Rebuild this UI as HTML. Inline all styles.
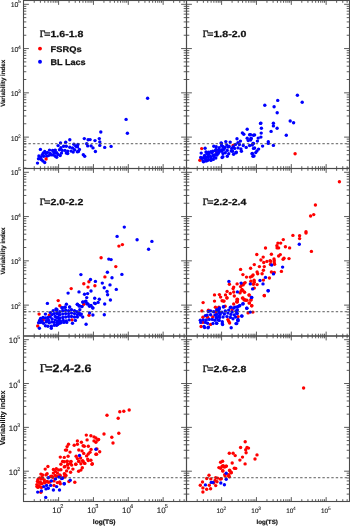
<!DOCTYPE html><html><head><meta charset="utf-8"><style>html,body{margin:0;padding:0;background:#fff;}svg{display:block;text-rendering:geometricPrecision}</style></head><body>
<svg width="350" height="526" viewBox="0 0 350 526">
<rect width="350" height="526" fill="#fff"/>
<g fill="#f00">
<circle cx="201.7" cy="148.6" r="1.7"/>
<circle cx="199.9" cy="160.2" r="1.7"/>
<circle cx="216.7" cy="152.1" r="1.7"/>
<circle cx="233.1" cy="145.5" r="1.7"/>
<circle cx="295.1" cy="153.8" r="1.7"/>
<circle cx="118.9" cy="246.1" r="1.7"/>
<circle cx="122.4" cy="244.6" r="1.7"/>
<circle cx="115.8" cy="266.6" r="1.7"/>
<circle cx="101.1" cy="257.8" r="1.7"/>
<circle cx="104.9" cy="276.9" r="1.7"/>
<circle cx="88.9" cy="281.8" r="1.7"/>
<circle cx="83.8" cy="283.7" r="1.7"/>
<circle cx="94.9" cy="285.7" r="1.7"/>
<circle cx="88.0" cy="287.1" r="1.7"/>
<circle cx="89.0" cy="315.3" r="1.7"/>
<circle cx="71.2" cy="288.6" r="1.7"/>
<circle cx="58.2" cy="300.6" r="1.7"/>
<circle cx="59.8" cy="305.7" r="1.7"/>
<circle cx="83.8" cy="304.3" r="1.7"/>
<circle cx="39.1" cy="314.1" r="1.7"/>
<circle cx="49.3" cy="315.1" r="1.7"/>
<circle cx="43.3" cy="319.9" r="1.7"/>
<circle cx="37.7" cy="326.0" r="1.7"/>
<circle cx="72.0" cy="319.9" r="1.7"/>
<circle cx="339.4" cy="181.7" r="1.7"/>
<circle cx="315.4" cy="205.0" r="1.7"/>
<circle cx="313.7" cy="214.6" r="1.7"/>
<circle cx="310.6" cy="216.0" r="1.7"/>
<circle cx="306.0" cy="231.7" r="1.7"/>
<circle cx="306.0" cy="233.1" r="1.7"/>
<circle cx="292.9" cy="235.4" r="1.7"/>
<circle cx="299.6" cy="235.7" r="1.7"/>
<circle cx="299.6" cy="238.6" r="1.7"/>
<circle cx="283.3" cy="239.6" r="1.7"/>
<circle cx="277.9" cy="243.1" r="1.7"/>
<circle cx="280.7" cy="243.1" r="1.7"/>
<circle cx="276.9" cy="245.7" r="1.7"/>
<circle cx="278.6" cy="247.9" r="1.7"/>
<circle cx="277.1" cy="247.9" r="1.7"/>
<circle cx="285.4" cy="246.7" r="1.7"/>
<circle cx="289.6" cy="247.9" r="1.7"/>
<circle cx="311.4" cy="251.4" r="1.7"/>
<circle cx="271.4" cy="254.3" r="1.7"/>
<circle cx="280.3" cy="254.6" r="1.7"/>
<circle cx="278.6" cy="256.0" r="1.7"/>
<circle cx="284.0" cy="258.3" r="1.7"/>
<circle cx="283.1" cy="259.3" r="1.7"/>
<circle cx="289.0" cy="258.6" r="1.7"/>
<circle cx="274.0" cy="258.9" r="1.7"/>
<circle cx="274.3" cy="260.7" r="1.7"/>
<circle cx="274.6" cy="264.3" r="1.7"/>
<circle cx="270.7" cy="261.4" r="1.7"/>
<circle cx="265.5" cy="248.0" r="1.7"/>
<circle cx="256.8" cy="254.5" r="1.7"/>
<circle cx="263.2" cy="257.1" r="1.7"/>
<circle cx="260.9" cy="260.0" r="1.7"/>
<circle cx="263.7" cy="262.5" r="1.7"/>
<circle cx="266.9" cy="261.4" r="1.7"/>
<circle cx="270.1" cy="260.6" r="1.7"/>
<circle cx="274.3" cy="262.9" r="1.7"/>
<circle cx="254.3" cy="264.6" r="1.7"/>
<circle cx="259.4" cy="266.6" r="1.7"/>
<circle cx="264.3" cy="266.6" r="1.7"/>
<circle cx="250.6" cy="268.2" r="1.7"/>
<circle cx="240.6" cy="269.4" r="1.7"/>
<circle cx="263.4" cy="270.3" r="1.7"/>
<circle cx="257.1" cy="272.0" r="1.7"/>
<circle cx="257.7" cy="273.7" r="1.7"/>
<circle cx="262.1" cy="273.7" r="1.7"/>
<circle cx="242.9" cy="274.6" r="1.7"/>
<circle cx="253.1" cy="274.9" r="1.7"/>
<circle cx="271.4" cy="272.0" r="1.7"/>
<circle cx="246.5" cy="277.1" r="1.7"/>
<circle cx="250.3" cy="277.1" r="1.7"/>
<circle cx="252.0" cy="276.3" r="1.7"/>
<circle cx="269.4" cy="278.0" r="1.7"/>
<circle cx="263.4" cy="280.1" r="1.7"/>
<circle cx="250.9" cy="281.2" r="1.7"/>
<circle cx="254.1" cy="280.3" r="1.7"/>
<circle cx="254.3" cy="282.3" r="1.7"/>
<circle cx="253.4" cy="284.3" r="1.7"/>
<circle cx="257.1" cy="284.6" r="1.7"/>
<circle cx="237.1" cy="283.9" r="1.7"/>
<circle cx="241.7" cy="284.9" r="1.7"/>
<circle cx="244.0" cy="283.5" r="1.7"/>
<circle cx="245.1" cy="282.6" r="1.7"/>
<circle cx="240.6" cy="286.6" r="1.7"/>
<circle cx="254.3" cy="288.1" r="1.7"/>
<circle cx="241.1" cy="291.1" r="1.7"/>
<circle cx="240.0" cy="292.9" r="1.7"/>
<circle cx="242.9" cy="290.6" r="1.7"/>
<circle cx="244.6" cy="292.3" r="1.7"/>
<circle cx="249.1" cy="295.1" r="1.7"/>
<circle cx="264.3" cy="295.4" r="1.7"/>
<circle cx="242.9" cy="298.0" r="1.7"/>
<circle cx="244.6" cy="299.7" r="1.7"/>
<circle cx="246.9" cy="300.3" r="1.7"/>
<circle cx="250.9" cy="300.0" r="1.7"/>
<circle cx="237.1" cy="299.1" r="1.7"/>
<circle cx="237.1" cy="301.4" r="1.7"/>
<circle cx="249.5" cy="302.9" r="1.7"/>
<circle cx="251.8" cy="305.7" r="1.7"/>
<circle cx="229.4" cy="284.3" r="1.7"/>
<circle cx="233.7" cy="287.1" r="1.7"/>
<circle cx="233.1" cy="288.6" r="1.7"/>
<circle cx="227.1" cy="291.4" r="1.7"/>
<circle cx="230.3" cy="293.5" r="1.7"/>
<circle cx="233.7" cy="292.0" r="1.7"/>
<circle cx="214.5" cy="294.9" r="1.7"/>
<circle cx="219.4" cy="294.6" r="1.7"/>
<circle cx="220.6" cy="297.1" r="1.7"/>
<circle cx="225.5" cy="294.9" r="1.7"/>
<circle cx="226.9" cy="297.7" r="1.7"/>
<circle cx="234.3" cy="296.0" r="1.7"/>
<circle cx="222.1" cy="300.8" r="1.7"/>
<circle cx="224.0" cy="301.1" r="1.7"/>
<circle cx="214.5" cy="301.1" r="1.7"/>
<circle cx="203.1" cy="302.6" r="1.7"/>
<circle cx="233.7" cy="304.0" r="1.7"/>
<circle cx="215.4" cy="307.2" r="1.7"/>
<circle cx="225.1" cy="306.3" r="1.7"/>
<circle cx="201.9" cy="310.9" r="1.7"/>
<circle cx="218.7" cy="307.9" r="1.7"/>
<circle cx="208.4" cy="310.2" r="1.7"/>
<circle cx="215.7" cy="312.1" r="1.7"/>
<circle cx="202.9" cy="317.3" r="1.7"/>
<circle cx="207.6" cy="317.3" r="1.7"/>
<circle cx="212.7" cy="317.0" r="1.7"/>
<circle cx="202.9" cy="322.4" r="1.7"/>
<circle cx="210.6" cy="324.4" r="1.7"/>
<circle cx="201.1" cy="326.5" r="1.7"/>
<circle cx="227.0" cy="298.1" r="1.7"/>
<circle cx="223.6" cy="301.1" r="1.7"/>
<circle cx="237.5" cy="299.4" r="1.7"/>
<circle cx="237.3" cy="302.0" r="1.7"/>
<circle cx="242.4" cy="298.1" r="1.7"/>
<circle cx="244.1" cy="299.9" r="1.7"/>
<circle cx="218.9" cy="307.1" r="1.7"/>
<circle cx="232.1" cy="309.7" r="1.7"/>
<circle cx="238.1" cy="316.6" r="1.7"/>
<circle cx="227.9" cy="319.6" r="1.7"/>
<circle cx="228.7" cy="321.3" r="1.7"/>
<circle cx="229.6" cy="323.0" r="1.7"/>
<circle cx="215.4" cy="311.9" r="1.7"/>
<circle cx="237.4" cy="299.7" r="1.7"/>
<circle cx="236.7" cy="301.7" r="1.7"/>
<circle cx="252.9" cy="312.1" r="1.7"/>
<circle cx="248.1" cy="312.9" r="1.7"/>
<circle cx="264.3" cy="295.7" r="1.7"/>
<circle cx="249.1" cy="295.0" r="1.7"/>
<circle cx="245.7" cy="300.3" r="1.7"/>
<circle cx="251.0" cy="299.7" r="1.7"/>
<circle cx="249.1" cy="303.1" r="1.7"/>
<circle cx="251.7" cy="305.7" r="1.7"/>
<circle cx="243.1" cy="284.9" r="1.7"/>
<circle cx="242.0" cy="289.4" r="1.7"/>
<circle cx="281.4" cy="271.4" r="1.7"/>
<circle cx="274.3" cy="272.4" r="1.7"/>
<circle cx="270.4" cy="264.4" r="1.7"/>
<circle cx="107.0" cy="415.2" r="1.7"/>
<circle cx="119.8" cy="411.8" r="1.7"/>
<circle cx="123.8" cy="411.3" r="1.7"/>
<circle cx="129.2" cy="410.0" r="1.7"/>
<circle cx="118.2" cy="418.2" r="1.7"/>
<circle cx="104.0" cy="434.0" r="1.7"/>
<circle cx="118.8" cy="433.2" r="1.7"/>
<circle cx="111.8" cy="437.2" r="1.7"/>
<circle cx="113.0" cy="443.0" r="1.7"/>
<circle cx="86.3" cy="435.1" r="1.7"/>
<circle cx="90.9" cy="435.7" r="1.7"/>
<circle cx="94.0" cy="436.9" r="1.7"/>
<circle cx="95.9" cy="438.0" r="1.7"/>
<circle cx="98.6" cy="439.5" r="1.7"/>
<circle cx="87.1" cy="439.9" r="1.7"/>
<circle cx="94.0" cy="440.9" r="1.7"/>
<circle cx="95.9" cy="442.2" r="1.7"/>
<circle cx="77.4" cy="440.9" r="1.7"/>
<circle cx="81.4" cy="442.2" r="1.7"/>
<circle cx="68.5" cy="444.3" r="1.7"/>
<circle cx="74.2" cy="445.2" r="1.7"/>
<circle cx="77.4" cy="444.3" r="1.7"/>
<circle cx="83.1" cy="445.7" r="1.7"/>
<circle cx="84.3" cy="446.3" r="1.7"/>
<circle cx="88.3" cy="446.3" r="1.7"/>
<circle cx="67.1" cy="446.6" r="1.7"/>
<circle cx="66.6" cy="450.0" r="1.7"/>
<circle cx="70.0" cy="452.1" r="1.7"/>
<circle cx="78.8" cy="450.0" r="1.7"/>
<circle cx="82.0" cy="450.9" r="1.7"/>
<circle cx="91.1" cy="449.4" r="1.7"/>
<circle cx="96.9" cy="448.9" r="1.7"/>
<circle cx="99.7" cy="451.7" r="1.7"/>
<circle cx="95.9" cy="454.3" r="1.7"/>
<circle cx="90.0" cy="452.3" r="1.7"/>
<circle cx="88.3" cy="454.0" r="1.7"/>
<circle cx="83.7" cy="453.4" r="1.7"/>
<circle cx="86.6" cy="455.9" r="1.7"/>
<circle cx="68.1" cy="456.3" r="1.7"/>
<circle cx="76.1" cy="456.3" r="1.7"/>
<circle cx="77.4" cy="458.6" r="1.7"/>
<circle cx="80.6" cy="458.0" r="1.7"/>
<circle cx="87.7" cy="459.1" r="1.7"/>
<circle cx="90.9" cy="460.3" r="1.7"/>
<circle cx="67.1" cy="461.4" r="1.7"/>
<circle cx="71.1" cy="461.4" r="1.7"/>
<circle cx="78.6" cy="461.4" r="1.7"/>
<circle cx="83.1" cy="461.4" r="1.7"/>
<circle cx="84.3" cy="463.1" r="1.7"/>
<circle cx="80.9" cy="463.7" r="1.7"/>
<circle cx="92.3" cy="463.7" r="1.7"/>
<circle cx="70.6" cy="463.7" r="1.7"/>
<circle cx="67.7" cy="464.3" r="1.7"/>
<circle cx="75.7" cy="464.3" r="1.7"/>
<circle cx="65.4" cy="450.1" r="1.7"/>
<circle cx="60.3" cy="457.1" r="1.7"/>
<circle cx="64.3" cy="457.4" r="1.7"/>
<circle cx="62.6" cy="461.5" r="1.7"/>
<circle cx="60.9" cy="464.2" r="1.7"/>
<circle cx="64.9" cy="466.5" r="1.7"/>
<circle cx="47.9" cy="466.5" r="1.7"/>
<circle cx="45.2" cy="469.1" r="1.7"/>
<circle cx="53.4" cy="469.5" r="1.7"/>
<circle cx="56.3" cy="468.6" r="1.7"/>
<circle cx="58.6" cy="470.0" r="1.7"/>
<circle cx="60.9" cy="469.7" r="1.7"/>
<circle cx="55.5" cy="471.4" r="1.7"/>
<circle cx="53.4" cy="473.1" r="1.7"/>
<circle cx="57.4" cy="473.1" r="1.7"/>
<circle cx="47.1" cy="473.7" r="1.7"/>
<circle cx="40.9" cy="474.1" r="1.7"/>
<circle cx="51.7" cy="476.3" r="1.7"/>
<circle cx="55.1" cy="475.4" r="1.7"/>
<circle cx="59.7" cy="474.9" r="1.7"/>
<circle cx="64.3" cy="473.7" r="1.7"/>
<circle cx="64.9" cy="477.1" r="1.7"/>
<circle cx="39.7" cy="477.9" r="1.7"/>
<circle cx="42.6" cy="477.9" r="1.7"/>
<circle cx="42.0" cy="477.4" r="1.7"/>
<circle cx="50.6" cy="476.5" r="1.7"/>
<circle cx="52.9" cy="477.4" r="1.7"/>
<circle cx="56.9" cy="476.3" r="1.7"/>
<circle cx="60.3" cy="475.7" r="1.7"/>
<circle cx="37.4" cy="481.4" r="1.7"/>
<circle cx="40.3" cy="482.0" r="1.7"/>
<circle cx="42.0" cy="483.7" r="1.7"/>
<circle cx="36.9" cy="486.6" r="1.7"/>
<circle cx="39.1" cy="486.6" r="1.7"/>
<circle cx="44.3" cy="482.0" r="1.7"/>
<circle cx="47.1" cy="481.4" r="1.7"/>
<circle cx="50.0" cy="482.0" r="1.7"/>
<circle cx="54.0" cy="480.9" r="1.7"/>
<circle cx="57.4" cy="482.6" r="1.7"/>
<circle cx="59.7" cy="482.0" r="1.7"/>
<circle cx="60.3" cy="483.7" r="1.7"/>
<circle cx="54.0" cy="485.4" r="1.7"/>
<circle cx="40.9" cy="492.3" r="1.7"/>
<circle cx="64.3" cy="461.7" r="1.7"/>
<circle cx="67.1" cy="461.1" r="1.7"/>
<circle cx="70.6" cy="461.7" r="1.7"/>
<circle cx="79.1" cy="461.1" r="1.7"/>
<circle cx="82.6" cy="460.6" r="1.7"/>
<circle cx="88.3" cy="460.6" r="1.7"/>
<circle cx="92.0" cy="464.3" r="1.7"/>
<circle cx="84.9" cy="463.4" r="1.7"/>
<circle cx="75.9" cy="464.3" r="1.7"/>
<circle cx="71.7" cy="465.1" r="1.7"/>
<circle cx="67.7" cy="465.1" r="1.7"/>
<circle cx="64.3" cy="466.9" r="1.7"/>
<circle cx="68.3" cy="468.0" r="1.7"/>
<circle cx="72.9" cy="469.1" r="1.7"/>
<circle cx="82.3" cy="467.8" r="1.7"/>
<circle cx="80.9" cy="470.1" r="1.7"/>
<circle cx="78.6" cy="471.2" r="1.7"/>
<circle cx="66.6" cy="470.9" r="1.7"/>
<circle cx="70.6" cy="472.3" r="1.7"/>
<circle cx="64.9" cy="474.3" r="1.7"/>
<circle cx="66.0" cy="475.4" r="1.7"/>
<circle cx="64.3" cy="476.6" r="1.7"/>
<circle cx="68.9" cy="481.5" r="1.7"/>
<circle cx="74.8" cy="482.3" r="1.7"/>
<circle cx="97.7" cy="440.0" r="1.7"/>
<circle cx="96.6" cy="454.3" r="1.7"/>
<circle cx="41.4" cy="478.9" r="1.7"/>
<circle cx="38.0" cy="479.4" r="1.7"/>
<circle cx="38.6" cy="482.3" r="1.7"/>
<circle cx="40.9" cy="483.4" r="1.7"/>
<circle cx="36.9" cy="484.6" r="1.7"/>
<circle cx="39.1" cy="485.7" r="1.7"/>
<circle cx="38.0" cy="487.4" r="1.7"/>
<circle cx="41.4" cy="487.4" r="1.7"/>
<circle cx="44.9" cy="482.9" r="1.7"/>
<circle cx="48.3" cy="482.3" r="1.7"/>
<circle cx="44.3" cy="480.0" r="1.7"/>
<circle cx="42.6" cy="474.9" r="1.7"/>
<circle cx="46.0" cy="474.9" r="1.7"/>
<circle cx="303.6" cy="388.0" r="1.7"/>
<circle cx="245.2" cy="441.7" r="1.7"/>
<circle cx="240.6" cy="447.5" r="1.7"/>
<circle cx="247.0" cy="447.5" r="1.7"/>
<circle cx="248.5" cy="448.1" r="1.7"/>
<circle cx="245.7" cy="449.8" r="1.7"/>
<circle cx="246.1" cy="452.7" r="1.7"/>
<circle cx="229.3" cy="453.3" r="1.7"/>
<circle cx="233.1" cy="453.3" r="1.7"/>
<circle cx="235.2" cy="455.6" r="1.7"/>
<circle cx="257.0" cy="454.9" r="1.7"/>
<circle cx="255.0" cy="459.0" r="1.7"/>
<circle cx="242.5" cy="457.1" r="1.7"/>
<circle cx="239.9" cy="460.1" r="1.7"/>
<circle cx="222.6" cy="461.3" r="1.7"/>
<circle cx="220.6" cy="462.2" r="1.7"/>
<circle cx="232.2" cy="463.0" r="1.7"/>
<circle cx="245.1" cy="463.9" r="1.7"/>
<circle cx="223.2" cy="465.8" r="1.7"/>
<circle cx="226.4" cy="466.1" r="1.7"/>
<circle cx="224.9" cy="466.9" r="1.7"/>
<circle cx="235.7" cy="468.4" r="1.7"/>
<circle cx="220.6" cy="468.2" r="1.7"/>
<circle cx="222.8" cy="471.0" r="1.7"/>
<circle cx="229.6" cy="470.3" r="1.7"/>
<circle cx="231.3" cy="472.5" r="1.7"/>
<circle cx="228.7" cy="474.8" r="1.7"/>
<circle cx="225.1" cy="475.9" r="1.7"/>
<circle cx="229.3" cy="476.8" r="1.7"/>
<circle cx="221.3" cy="478.7" r="1.7"/>
<circle cx="218.9" cy="467.6" r="1.7"/>
<circle cx="222.1" cy="466.3" r="1.7"/>
<circle cx="224.1" cy="466.9" r="1.7"/>
<circle cx="226.0" cy="466.3" r="1.7"/>
<circle cx="222.8" cy="470.8" r="1.7"/>
<circle cx="229.8" cy="470.8" r="1.7"/>
<circle cx="231.1" cy="472.7" r="1.7"/>
<circle cx="224.7" cy="474.6" r="1.7"/>
<circle cx="228.6" cy="475.9" r="1.7"/>
<circle cx="234.3" cy="468.2" r="1.7"/>
<circle cx="209.0" cy="475.3" r="1.7"/>
<circle cx="206.7" cy="478.5" r="1.7"/>
<circle cx="210.8" cy="478.9" r="1.7"/>
<circle cx="215.7" cy="477.6" r="1.7"/>
<circle cx="217.6" cy="478.1" r="1.7"/>
<circle cx="220.2" cy="479.1" r="1.7"/>
<circle cx="215.1" cy="480.4" r="1.7"/>
<circle cx="217.0" cy="481.7" r="1.7"/>
<circle cx="213.8" cy="483.0" r="1.7"/>
<circle cx="215.7" cy="485.6" r="1.7"/>
<circle cx="209.3" cy="485.3" r="1.7"/>
<circle cx="202.5" cy="482.0" r="1.7"/>
<circle cx="200.3" cy="485.3" r="1.7"/>
<circle cx="202.9" cy="487.9" r="1.7"/>
<circle cx="206.7" cy="489.2" r="1.7"/>
<circle cx="210.6" cy="488.8" r="1.7"/>
<circle cx="202.9" cy="492.0" r="1.7"/>
</g>
<g fill="#00f">
<circle cx="40.4" cy="149.4" r="1.7"/>
<circle cx="37.5" cy="163.1" r="1.7"/>
<circle cx="38.9" cy="155.9" r="1.7"/>
<circle cx="38.5" cy="158.7" r="1.7"/>
<circle cx="40.9" cy="157.0" r="1.7"/>
<circle cx="42.3" cy="154.6" r="1.7"/>
<circle cx="44.7" cy="151.5" r="1.7"/>
<circle cx="43.3" cy="152.9" r="1.7"/>
<circle cx="45.7" cy="153.5" r="1.7"/>
<circle cx="47.4" cy="152.5" r="1.7"/>
<circle cx="49.5" cy="150.1" r="1.7"/>
<circle cx="50.2" cy="153.5" r="1.7"/>
<circle cx="52.6" cy="150.5" r="1.7"/>
<circle cx="53.9" cy="152.5" r="1.7"/>
<circle cx="55.3" cy="150.1" r="1.7"/>
<circle cx="43.0" cy="161.1" r="1.7"/>
<circle cx="44.7" cy="162.5" r="1.7"/>
<circle cx="41.6" cy="159.7" r="1.7"/>
<circle cx="43.7" cy="156.3" r="1.7"/>
<circle cx="48.5" cy="155.6" r="1.7"/>
<circle cx="51.2" cy="154.9" r="1.7"/>
<circle cx="53.3" cy="154.9" r="1.7"/>
<circle cx="55.3" cy="156.3" r="1.7"/>
<circle cx="46.7" cy="156.3" r="1.7"/>
<circle cx="40.2" cy="158.7" r="1.7"/>
<circle cx="69.8" cy="139.8" r="1.7"/>
<circle cx="65.7" cy="142.3" r="1.7"/>
<circle cx="60.5" cy="142.9" r="1.7"/>
<circle cx="58.1" cy="145.6" r="1.7"/>
<circle cx="73.9" cy="144.2" r="1.7"/>
<circle cx="75.9" cy="146.3" r="1.7"/>
<circle cx="60.9" cy="147.7" r="1.7"/>
<circle cx="63.6" cy="146.3" r="1.7"/>
<circle cx="66.3" cy="146.3" r="1.7"/>
<circle cx="69.8" cy="147.3" r="1.7"/>
<circle cx="72.5" cy="148.0" r="1.7"/>
<circle cx="74.6" cy="149.7" r="1.7"/>
<circle cx="77.3" cy="151.8" r="1.7"/>
<circle cx="59.5" cy="149.7" r="1.7"/>
<circle cx="62.2" cy="150.4" r="1.7"/>
<circle cx="65.0" cy="150.4" r="1.7"/>
<circle cx="67.7" cy="151.1" r="1.7"/>
<circle cx="71.1" cy="151.1" r="1.7"/>
<circle cx="73.2" cy="152.1" r="1.7"/>
<circle cx="54.7" cy="150.4" r="1.7"/>
<circle cx="56.7" cy="152.8" r="1.7"/>
<circle cx="58.1" cy="154.5" r="1.7"/>
<circle cx="60.2" cy="155.5" r="1.7"/>
<circle cx="56.7" cy="157.3" r="1.7"/>
<circle cx="61.5" cy="153.1" r="1.7"/>
<circle cx="66.3" cy="153.1" r="1.7"/>
<circle cx="67.7" cy="153.5" r="1.7"/>
<circle cx="55.4" cy="153.1" r="1.7"/>
<circle cx="100.8" cy="132.0" r="1.7"/>
<circle cx="84.3" cy="138.6" r="1.7"/>
<circle cx="88.1" cy="139.8" r="1.7"/>
<circle cx="90.1" cy="139.6" r="1.7"/>
<circle cx="95.0" cy="140.6" r="1.7"/>
<circle cx="99.3" cy="138.6" r="1.7"/>
<circle cx="99.8" cy="142.0" r="1.7"/>
<circle cx="99.8" cy="145.4" r="1.7"/>
<circle cx="104.7" cy="147.4" r="1.7"/>
<circle cx="86.7" cy="143.7" r="1.7"/>
<circle cx="87.7" cy="145.9" r="1.7"/>
<circle cx="91.1" cy="145.9" r="1.7"/>
<circle cx="93.0" cy="147.9" r="1.7"/>
<circle cx="95.4" cy="151.5" r="1.7"/>
<circle cx="77.9" cy="144.5" r="1.7"/>
<circle cx="77.5" cy="146.9" r="1.7"/>
<circle cx="79.4" cy="149.5" r="1.7"/>
<circle cx="78.4" cy="151.5" r="1.7"/>
<circle cx="83.3" cy="154.7" r="1.7"/>
<circle cx="84.7" cy="156.3" r="1.7"/>
<circle cx="126.1" cy="119.4" r="1.7"/>
<circle cx="127.4" cy="133.2" r="1.7"/>
<circle cx="147.6" cy="98.3" r="1.7"/>
<circle cx="111.1" cy="146.4" r="1.7"/>
<circle cx="205.1" cy="148.3" r="1.7"/>
<circle cx="201.2" cy="153.1" r="1.7"/>
<circle cx="200.7" cy="157.5" r="1.7"/>
<circle cx="203.1" cy="160.9" r="1.7"/>
<circle cx="204.6" cy="155.5" r="1.7"/>
<circle cx="207.0" cy="153.6" r="1.7"/>
<circle cx="208.5" cy="152.1" r="1.7"/>
<circle cx="210.9" cy="151.7" r="1.7"/>
<circle cx="212.8" cy="151.2" r="1.7"/>
<circle cx="215.3" cy="150.7" r="1.7"/>
<circle cx="213.8" cy="146.3" r="1.7"/>
<circle cx="216.2" cy="146.8" r="1.7"/>
<circle cx="219.2" cy="147.8" r="1.7"/>
<circle cx="221.1" cy="142.9" r="1.7"/>
<circle cx="221.6" cy="145.8" r="1.7"/>
<circle cx="220.1" cy="150.7" r="1.7"/>
<circle cx="222.1" cy="149.7" r="1.7"/>
<circle cx="223.0" cy="153.6" r="1.7"/>
<circle cx="222.1" cy="157.5" r="1.7"/>
<circle cx="205.5" cy="159.0" r="1.7"/>
<circle cx="208.5" cy="159.4" r="1.7"/>
<circle cx="210.9" cy="160.4" r="1.7"/>
<circle cx="213.3" cy="159.4" r="1.7"/>
<circle cx="215.8" cy="158.0" r="1.7"/>
<circle cx="203.6" cy="157.5" r="1.7"/>
<circle cx="207.5" cy="157.0" r="1.7"/>
<circle cx="210.4" cy="156.5" r="1.7"/>
<circle cx="213.3" cy="155.5" r="1.7"/>
<circle cx="215.3" cy="154.6" r="1.7"/>
<circle cx="218.2" cy="153.6" r="1.7"/>
<circle cx="203.5" cy="161.7" r="1.7"/>
<circle cx="206.0" cy="161.0" r="1.7"/>
<circle cx="247.2" cy="129.2" r="1.7"/>
<circle cx="242.4" cy="132.9" r="1.7"/>
<circle cx="243.8" cy="134.3" r="1.7"/>
<circle cx="249.6" cy="134.8" r="1.7"/>
<circle cx="253.5" cy="135.3" r="1.7"/>
<circle cx="247.2" cy="138.2" r="1.7"/>
<circle cx="251.1" cy="138.7" r="1.7"/>
<circle cx="248.2" cy="140.6" r="1.7"/>
<circle cx="237.0" cy="138.7" r="1.7"/>
<circle cx="240.4" cy="141.1" r="1.7"/>
<circle cx="238.0" cy="142.6" r="1.7"/>
<circle cx="230.2" cy="142.1" r="1.7"/>
<circle cx="225.8" cy="141.6" r="1.7"/>
<circle cx="221.5" cy="143.5" r="1.7"/>
<circle cx="235.5" cy="144.5" r="1.7"/>
<circle cx="239.4" cy="144.5" r="1.7"/>
<circle cx="243.3" cy="145.5" r="1.7"/>
<circle cx="246.2" cy="147.4" r="1.7"/>
<circle cx="249.6" cy="145.5" r="1.7"/>
<circle cx="253.0" cy="143.5" r="1.7"/>
<circle cx="222.9" cy="146.5" r="1.7"/>
<circle cx="226.8" cy="145.0" r="1.7"/>
<circle cx="229.2" cy="146.5" r="1.7"/>
<circle cx="231.7" cy="148.4" r="1.7"/>
<circle cx="234.6" cy="148.4" r="1.7"/>
<circle cx="238.0" cy="147.9" r="1.7"/>
<circle cx="240.9" cy="148.9" r="1.7"/>
<circle cx="241.4" cy="151.3" r="1.7"/>
<circle cx="223.9" cy="149.4" r="1.7"/>
<circle cx="227.3" cy="150.4" r="1.7"/>
<circle cx="221.9" cy="151.3" r="1.7"/>
<circle cx="225.3" cy="152.8" r="1.7"/>
<circle cx="228.7" cy="153.8" r="1.7"/>
<circle cx="232.6" cy="151.3" r="1.7"/>
<circle cx="236.0" cy="152.8" r="1.7"/>
<circle cx="233.6" cy="154.2" r="1.7"/>
<circle cx="222.9" cy="156.7" r="1.7"/>
<circle cx="227.3" cy="156.2" r="1.7"/>
<circle cx="252.1" cy="153.8" r="1.7"/>
<circle cx="253.5" cy="148.4" r="1.7"/>
<circle cx="253.0" cy="156.2" r="1.7"/>
<circle cx="231.2" cy="151.0" r="1.7"/>
<circle cx="236.3" cy="152.3" r="1.7"/>
<circle cx="260.5" cy="123.4" r="1.7"/>
<circle cx="261.4" cy="128.2" r="1.7"/>
<circle cx="261.2" cy="133.1" r="1.7"/>
<circle cx="260.9" cy="137.1" r="1.7"/>
<circle cx="258.2" cy="138.1" r="1.7"/>
<circle cx="254.6" cy="134.9" r="1.7"/>
<circle cx="250.6" cy="134.6" r="1.7"/>
<circle cx="251.1" cy="138.3" r="1.7"/>
<circle cx="250.6" cy="140.0" r="1.7"/>
<circle cx="257.4" cy="141.1" r="1.7"/>
<circle cx="253.4" cy="143.4" r="1.7"/>
<circle cx="252.3" cy="145.1" r="1.7"/>
<circle cx="254.6" cy="148.0" r="1.7"/>
<circle cx="258.6" cy="149.1" r="1.7"/>
<circle cx="256.9" cy="150.9" r="1.7"/>
<circle cx="255.7" cy="152.6" r="1.7"/>
<circle cx="252.3" cy="153.4" r="1.7"/>
<circle cx="254.0" cy="156.0" r="1.7"/>
<circle cx="262.6" cy="146.1" r="1.7"/>
<circle cx="268.3" cy="141.7" r="1.7"/>
<circle cx="268.3" cy="143.4" r="1.7"/>
<circle cx="273.4" cy="145.4" r="1.7"/>
<circle cx="271.1" cy="131.4" r="1.7"/>
<circle cx="273.4" cy="123.2" r="1.7"/>
<circle cx="273.4" cy="125.9" r="1.7"/>
<circle cx="277.1" cy="128.3" r="1.7"/>
<circle cx="286.3" cy="135.2" r="1.7"/>
<circle cx="297.4" cy="95.3" r="1.7"/>
<circle cx="302.2" cy="102.2" r="1.7"/>
<circle cx="277.7" cy="100.4" r="1.7"/>
<circle cx="264.8" cy="105.2" r="1.7"/>
<circle cx="274.1" cy="106.8" r="1.7"/>
<circle cx="277.2" cy="112.8" r="1.7"/>
<circle cx="260.9" cy="123.1" r="1.7"/>
<circle cx="290.2" cy="121.0" r="1.7"/>
<circle cx="293.6" cy="122.7" r="1.7"/>
<circle cx="206.0" cy="152.0" r="1.7"/>
<circle cx="209.0" cy="154.0" r="1.7"/>
<circle cx="212.0" cy="153.0" r="1.7"/>
<circle cx="205.0" cy="157.0" r="1.7"/>
<circle cx="208.0" cy="156.5" r="1.7"/>
<circle cx="211.0" cy="158.0" r="1.7"/>
<circle cx="214.0" cy="157.0" r="1.7"/>
<circle cx="217.0" cy="155.0" r="1.7"/>
<circle cx="219.0" cy="152.0" r="1.7"/>
<circle cx="216.0" cy="149.5" r="1.7"/>
<circle cx="218.5" cy="150.0" r="1.7"/>
<circle cx="225.0" cy="147.5" r="1.7"/>
<circle cx="228.0" cy="147.0" r="1.7"/>
<circle cx="233.3" cy="146.6" r="1.7"/>
<circle cx="217.0" cy="152.9" r="1.7"/>
<circle cx="207.5" cy="160.5" r="1.7"/>
<circle cx="202.0" cy="158.5" r="1.7"/>
<circle cx="124.3" cy="227.1" r="1.7"/>
<circle cx="117.1" cy="236.4" r="1.7"/>
<circle cx="137.1" cy="239.7" r="1.7"/>
<circle cx="151.9" cy="241.4" r="1.7"/>
<circle cx="148.6" cy="249.3" r="1.7"/>
<circle cx="111.1" cy="259.6" r="1.7"/>
<circle cx="108.8" cy="259.1" r="1.7"/>
<circle cx="80.9" cy="274.6" r="1.7"/>
<circle cx="107.4" cy="272.3" r="1.7"/>
<circle cx="112.0" cy="277.8" r="1.7"/>
<circle cx="90.5" cy="279.5" r="1.7"/>
<circle cx="95.4" cy="281.4" r="1.7"/>
<circle cx="102.3" cy="283.1" r="1.7"/>
<circle cx="110.0" cy="284.9" r="1.7"/>
<circle cx="104.2" cy="287.7" r="1.7"/>
<circle cx="116.3" cy="289.4" r="1.7"/>
<circle cx="121.9" cy="274.4" r="1.7"/>
<circle cx="91.0" cy="291.0" r="1.7"/>
<circle cx="87.6" cy="293.6" r="1.7"/>
<circle cx="107.1" cy="291.4" r="1.7"/>
<circle cx="107.6" cy="294.7" r="1.7"/>
<circle cx="86.7" cy="297.6" r="1.7"/>
<circle cx="94.7" cy="298.3" r="1.7"/>
<circle cx="99.3" cy="299.3" r="1.7"/>
<circle cx="110.4" cy="300.0" r="1.7"/>
<circle cx="98.1" cy="302.4" r="1.7"/>
<circle cx="95.3" cy="303.6" r="1.7"/>
<circle cx="87.1" cy="303.6" r="1.7"/>
<circle cx="90.7" cy="305.7" r="1.7"/>
<circle cx="92.9" cy="308.1" r="1.7"/>
<circle cx="104.7" cy="304.0" r="1.7"/>
<circle cx="89.6" cy="312.9" r="1.7"/>
<circle cx="92.9" cy="315.0" r="1.7"/>
<circle cx="104.3" cy="314.7" r="1.7"/>
<circle cx="86.1" cy="324.3" r="1.7"/>
<circle cx="68.1" cy="293.1" r="1.7"/>
<circle cx="79.0" cy="291.9" r="1.7"/>
<circle cx="84.5" cy="294.3" r="1.7"/>
<circle cx="66.4" cy="304.3" r="1.7"/>
<circle cx="69.6" cy="307.1" r="1.7"/>
<circle cx="64.7" cy="307.1" r="1.7"/>
<circle cx="61.9" cy="307.7" r="1.7"/>
<circle cx="77.3" cy="304.3" r="1.7"/>
<circle cx="79.0" cy="306.0" r="1.7"/>
<circle cx="81.9" cy="306.6" r="1.7"/>
<circle cx="83.0" cy="302.0" r="1.7"/>
<circle cx="85.9" cy="301.1" r="1.7"/>
<circle cx="88.1" cy="304.1" r="1.7"/>
<circle cx="91.0" cy="305.4" r="1.7"/>
<circle cx="92.7" cy="307.7" r="1.7"/>
<circle cx="56.1" cy="308.9" r="1.7"/>
<circle cx="94.4" cy="303.1" r="1.7"/>
<circle cx="47.4" cy="303.4" r="1.7"/>
<circle cx="45.4" cy="314.1" r="1.7"/>
<circle cx="39.4" cy="328.2" r="1.7"/>
<circle cx="38.6" cy="322.8" r="1.7"/>
<circle cx="62.3" cy="308.0" r="1.7"/>
<circle cx="65.2" cy="307.3" r="1.7"/>
<circle cx="69.6" cy="307.0" r="1.7"/>
<circle cx="77.4" cy="304.4" r="1.7"/>
<circle cx="79.3" cy="305.8" r="1.7"/>
<circle cx="81.8" cy="306.6" r="1.7"/>
<circle cx="82.7" cy="302.1" r="1.7"/>
<circle cx="85.6" cy="301.5" r="1.7"/>
<circle cx="87.1" cy="303.9" r="1.7"/>
<circle cx="89.5" cy="306.3" r="1.7"/>
<circle cx="79.8" cy="309.7" r="1.7"/>
<circle cx="82.7" cy="317.0" r="1.7"/>
<circle cx="72.5" cy="323.3" r="1.7"/>
<circle cx="75.4" cy="320.4" r="1.7"/>
<circle cx="40.6" cy="318.5" r="1.7"/>
<circle cx="43.0" cy="317.5" r="1.7"/>
<circle cx="45.4" cy="318.0" r="1.7"/>
<circle cx="47.9" cy="317.5" r="1.7"/>
<circle cx="50.3" cy="317.0" r="1.7"/>
<circle cx="52.2" cy="314.6" r="1.7"/>
<circle cx="53.2" cy="310.7" r="1.7"/>
<circle cx="56.1" cy="309.7" r="1.7"/>
<circle cx="50.3" cy="312.6" r="1.7"/>
<circle cx="54.2" cy="313.6" r="1.7"/>
<circle cx="57.1" cy="312.6" r="1.7"/>
<circle cx="59.0" cy="314.6" r="1.7"/>
<circle cx="55.2" cy="316.5" r="1.7"/>
<circle cx="58.1" cy="317.5" r="1.7"/>
<circle cx="52.2" cy="319.0" r="1.7"/>
<circle cx="55.2" cy="319.9" r="1.7"/>
<circle cx="59.0" cy="320.4" r="1.7"/>
<circle cx="40.6" cy="322.4" r="1.7"/>
<circle cx="43.5" cy="323.3" r="1.7"/>
<circle cx="46.4" cy="321.9" r="1.7"/>
<circle cx="49.3" cy="322.8" r="1.7"/>
<circle cx="51.8" cy="321.9" r="1.7"/>
<circle cx="54.2" cy="322.4" r="1.7"/>
<circle cx="57.1" cy="322.8" r="1.7"/>
<circle cx="59.5" cy="323.3" r="1.7"/>
<circle cx="45.4" cy="325.8" r="1.7"/>
<circle cx="47.9" cy="326.2" r="1.7"/>
<circle cx="51.3" cy="326.2" r="1.7"/>
<circle cx="54.2" cy="325.3" r="1.7"/>
<circle cx="57.1" cy="324.8" r="1.7"/>
<circle cx="51.3" cy="328.2" r="1.7"/>
<circle cx="39.6" cy="320.4" r="1.7"/>
<circle cx="42.0" cy="320.9" r="1.7"/>
<circle cx="57.0" cy="309.7" r="1.7"/>
<circle cx="59.9" cy="311.7" r="1.7"/>
<circle cx="62.8" cy="310.7" r="1.7"/>
<circle cx="65.7" cy="310.2" r="1.7"/>
<circle cx="68.6" cy="310.7" r="1.7"/>
<circle cx="71.5" cy="309.7" r="1.7"/>
<circle cx="74.5" cy="310.7" r="1.7"/>
<circle cx="76.9" cy="311.7" r="1.7"/>
<circle cx="79.3" cy="313.1" r="1.7"/>
<circle cx="81.3" cy="314.1" r="1.7"/>
<circle cx="57.0" cy="313.6" r="1.7"/>
<circle cx="59.9" cy="314.6" r="1.7"/>
<circle cx="62.8" cy="314.1" r="1.7"/>
<circle cx="65.7" cy="313.6" r="1.7"/>
<circle cx="68.6" cy="313.6" r="1.7"/>
<circle cx="71.5" cy="313.1" r="1.7"/>
<circle cx="74.5" cy="313.6" r="1.7"/>
<circle cx="77.4" cy="314.6" r="1.7"/>
<circle cx="80.3" cy="315.1" r="1.7"/>
<circle cx="57.0" cy="317.5" r="1.7"/>
<circle cx="59.9" cy="318.0" r="1.7"/>
<circle cx="62.8" cy="317.5" r="1.7"/>
<circle cx="65.7" cy="317.0" r="1.7"/>
<circle cx="68.6" cy="316.5" r="1.7"/>
<circle cx="71.5" cy="316.5" r="1.7"/>
<circle cx="74.5" cy="317.0" r="1.7"/>
<circle cx="77.4" cy="317.0" r="1.7"/>
<circle cx="57.5" cy="320.9" r="1.7"/>
<circle cx="60.4" cy="320.9" r="1.7"/>
<circle cx="63.3" cy="320.4" r="1.7"/>
<circle cx="66.2" cy="320.9" r="1.7"/>
<circle cx="69.1" cy="319.9" r="1.7"/>
<circle cx="57.9" cy="324.3" r="1.7"/>
<circle cx="60.9" cy="322.8" r="1.7"/>
<circle cx="63.8" cy="322.4" r="1.7"/>
<circle cx="66.7" cy="322.4" r="1.7"/>
<circle cx="56.5" cy="325.3" r="1.7"/>
<circle cx="48.5" cy="320.2" r="1.7"/>
<circle cx="46.5" cy="320.6" r="1.7"/>
<circle cx="299.3" cy="244.3" r="1.7"/>
<circle cx="271.7" cy="265.0" r="1.7"/>
<circle cx="282.6" cy="267.1" r="1.7"/>
<circle cx="273.5" cy="273.9" r="1.7"/>
<circle cx="265.5" cy="277.4" r="1.7"/>
<circle cx="260.0" cy="280.5" r="1.7"/>
<circle cx="263.0" cy="283.9" r="1.7"/>
<circle cx="250.3" cy="283.9" r="1.7"/>
<circle cx="241.1" cy="283.1" r="1.7"/>
<circle cx="252.6" cy="288.9" r="1.7"/>
<circle cx="268.2" cy="290.8" r="1.7"/>
<circle cx="237.4" cy="291.9" r="1.7"/>
<circle cx="251.8" cy="297.4" r="1.7"/>
<circle cx="243.1" cy="303.7" r="1.7"/>
<circle cx="239.4" cy="306.0" r="1.7"/>
<circle cx="237.1" cy="307.1" r="1.7"/>
<circle cx="246.9" cy="308.3" r="1.7"/>
<circle cx="228.9" cy="281.4" r="1.7"/>
<circle cx="223.4" cy="306.9" r="1.7"/>
<circle cx="219.4" cy="308.0" r="1.7"/>
<circle cx="230.3" cy="307.4" r="1.7"/>
<circle cx="233.7" cy="308.0" r="1.7"/>
<circle cx="208.4" cy="311.5" r="1.7"/>
<circle cx="210.6" cy="310.9" r="1.7"/>
<circle cx="213.6" cy="311.7" r="1.7"/>
<circle cx="217.4" cy="310.4" r="1.7"/>
<circle cx="219.1" cy="312.6" r="1.7"/>
<circle cx="205.4" cy="315.6" r="1.7"/>
<circle cx="207.1" cy="315.1" r="1.7"/>
<circle cx="210.6" cy="314.7" r="1.7"/>
<circle cx="214.9" cy="315.1" r="1.7"/>
<circle cx="216.6" cy="318.1" r="1.7"/>
<circle cx="218.7" cy="316.4" r="1.7"/>
<circle cx="200.3" cy="320.3" r="1.7"/>
<circle cx="203.3" cy="319.9" r="1.7"/>
<circle cx="206.3" cy="319.9" r="1.7"/>
<circle cx="209.3" cy="319.4" r="1.7"/>
<circle cx="212.3" cy="319.4" r="1.7"/>
<circle cx="214.9" cy="320.3" r="1.7"/>
<circle cx="218.3" cy="319.9" r="1.7"/>
<circle cx="200.7" cy="322.4" r="1.7"/>
<circle cx="205.4" cy="322.4" r="1.7"/>
<circle cx="207.6" cy="323.3" r="1.7"/>
<circle cx="213.0" cy="323.5" r="1.7"/>
<circle cx="216.6" cy="323.3" r="1.7"/>
<circle cx="204.1" cy="326.5" r="1.7"/>
<circle cx="208.4" cy="327.1" r="1.7"/>
<circle cx="204.6" cy="327.6" r="1.7"/>
<circle cx="242.8" cy="303.9" r="1.7"/>
<circle cx="239.8" cy="305.4" r="1.7"/>
<circle cx="237.7" cy="306.7" r="1.7"/>
<circle cx="235.1" cy="307.1" r="1.7"/>
<circle cx="230.9" cy="307.1" r="1.7"/>
<circle cx="223.6" cy="306.7" r="1.7"/>
<circle cx="219.3" cy="308.9" r="1.7"/>
<circle cx="216.7" cy="309.7" r="1.7"/>
<circle cx="218.9" cy="311.4" r="1.7"/>
<circle cx="221.9" cy="312.3" r="1.7"/>
<circle cx="225.3" cy="311.0" r="1.7"/>
<circle cx="228.7" cy="310.1" r="1.7"/>
<circle cx="232.1" cy="311.9" r="1.7"/>
<circle cx="236.0" cy="311.0" r="1.7"/>
<circle cx="237.3" cy="313.6" r="1.7"/>
<circle cx="234.3" cy="314.9" r="1.7"/>
<circle cx="230.9" cy="314.4" r="1.7"/>
<circle cx="227.9" cy="313.1" r="1.7"/>
<circle cx="224.4" cy="314.0" r="1.7"/>
<circle cx="220.1" cy="314.4" r="1.7"/>
<circle cx="216.7" cy="314.4" r="1.7"/>
<circle cx="216.3" cy="317.4" r="1.7"/>
<circle cx="219.7" cy="317.4" r="1.7"/>
<circle cx="223.1" cy="317.0" r="1.7"/>
<circle cx="227.0" cy="316.6" r="1.7"/>
<circle cx="230.4" cy="317.4" r="1.7"/>
<circle cx="233.0" cy="318.7" r="1.7"/>
<circle cx="235.6" cy="317.0" r="1.7"/>
<circle cx="242.0" cy="316.1" r="1.7"/>
<circle cx="237.7" cy="320.4" r="1.7"/>
<circle cx="219.3" cy="320.4" r="1.7"/>
<circle cx="222.3" cy="321.7" r="1.7"/>
<circle cx="216.7" cy="323.2" r="1.7"/>
<circle cx="222.3" cy="323.8" r="1.7"/>
<circle cx="236.0" cy="323.6" r="1.7"/>
<circle cx="208.0" cy="327.7" r="1.7"/>
<circle cx="222.6" cy="324.6" r="1.7"/>
<circle cx="231.2" cy="327.7" r="1.7"/>
<circle cx="238.0" cy="319.4" r="1.7"/>
<circle cx="268.1" cy="290.7" r="1.7"/>
<circle cx="251.4" cy="297.4" r="1.7"/>
<circle cx="250.3" cy="312.1" r="1.7"/>
<circle cx="241.7" cy="316.0" r="1.7"/>
<circle cx="237.4" cy="310.0" r="1.7"/>
<circle cx="236.7" cy="312.9" r="1.7"/>
<circle cx="238.1" cy="320.7" r="1.7"/>
<circle cx="236.7" cy="323.6" r="1.7"/>
<circle cx="246.7" cy="308.3" r="1.7"/>
<circle cx="95.9" cy="449.2" r="1.7"/>
<circle cx="79.5" cy="455.5" r="1.7"/>
<circle cx="48.3" cy="477.7" r="1.7"/>
<circle cx="55.5" cy="478.9" r="1.7"/>
<circle cx="59.1" cy="477.1" r="1.7"/>
<circle cx="62.0" cy="478.3" r="1.7"/>
<circle cx="51.4" cy="480.9" r="1.7"/>
<circle cx="61.7" cy="478.6" r="1.7"/>
<circle cx="64.3" cy="483.7" r="1.7"/>
<circle cx="43.7" cy="486.6" r="1.7"/>
<circle cx="46.6" cy="485.4" r="1.7"/>
<circle cx="46.0" cy="488.9" r="1.7"/>
<circle cx="48.3" cy="488.3" r="1.7"/>
<circle cx="50.6" cy="485.4" r="1.7"/>
<circle cx="56.6" cy="486.6" r="1.7"/>
<circle cx="53.4" cy="490.0" r="1.7"/>
<circle cx="59.5" cy="490.0" r="1.7"/>
<circle cx="41.4" cy="490.9" r="1.7"/>
<circle cx="37.7" cy="492.1" r="1.7"/>
<circle cx="45.7" cy="497.4" r="1.7"/>
<circle cx="70.2" cy="480.3" r="1.7"/>
<circle cx="64.1" cy="483.8" r="1.7"/>
<circle cx="62.2" cy="478.3" r="1.7"/>
<circle cx="226.2" cy="473.3" r="1.7"/>
<circle cx="226.2" cy="479.3" r="1.7"/>
<circle cx="220.8" cy="483.0" r="1.7"/>
<circle cx="224.4" cy="484.7" r="1.7"/>
<circle cx="211.2" cy="482.4" r="1.7"/>
<circle cx="212.9" cy="482.4" r="1.7"/>
<circle cx="205.4" cy="484.9" r="1.7"/>
</g>
<g fill="#f00">
<circle cx="46.1" cy="159.0" r="1.7"/>
</g>
<line x1="23.50" y1="143.71" x2="186.50" y2="143.71" stroke="#4a4a4a" stroke-width="0.9" stroke-dasharray="2.4 2.05" stroke-dashoffset="3.95"/>
<line x1="186.50" y1="143.71" x2="349.50" y2="143.71" stroke="#4a4a4a" stroke-width="0.9" stroke-dasharray="2.4 2.05" stroke-dashoffset="2.05"/>
<line x1="23.50" y1="311.71" x2="186.50" y2="311.71" stroke="#4a4a4a" stroke-width="0.9" stroke-dasharray="2.4 2.05" stroke-dashoffset="3.95"/>
<line x1="186.50" y1="311.71" x2="349.50" y2="311.71" stroke="#4a4a4a" stroke-width="0.9" stroke-dasharray="2.4 2.05" stroke-dashoffset="2.05"/>
<line x1="23.50" y1="477.73" x2="186.50" y2="477.73" stroke="#4a4a4a" stroke-width="0.9" stroke-dasharray="2.4 2.05" stroke-dashoffset="3.95"/>
<line x1="186.50" y1="477.73" x2="349.50" y2="477.73" stroke="#4a4a4a" stroke-width="0.9" stroke-dasharray="2.4 2.05" stroke-dashoffset="2.05"/>
<path d="M34.24 168.50v-2.3M34.24 0.50v2.3M40.38 168.50v-2.3M40.38 0.50v2.3M44.73 168.50v-2.3M44.73 0.50v2.3M48.11 168.50v-2.3M48.11 0.50v2.3M50.87 168.50v-2.3M50.87 0.50v2.3M53.20 168.50v-2.3M53.20 0.50v2.3M55.22 168.50v-2.3M55.22 0.50v2.3M57.01 168.50v-2.3M57.01 0.50v2.3M58.60 168.50v-4.4M58.60 0.50v4.4M69.09 168.50v-2.3M69.09 0.50v2.3M75.23 168.50v-2.3M75.23 0.50v2.3M79.58 168.50v-2.3M79.58 0.50v2.3M82.96 168.50v-2.3M82.96 0.50v2.3M85.72 168.50v-2.3M85.72 0.50v2.3M88.05 168.50v-2.3M88.05 0.50v2.3M90.07 168.50v-2.3M90.07 0.50v2.3M91.86 168.50v-2.3M91.86 0.50v2.3M93.45 168.50v-4.4M93.45 0.50v4.4M103.94 168.50v-2.3M103.94 0.50v2.3M110.08 168.50v-2.3M110.08 0.50v2.3M114.43 168.50v-2.3M114.43 0.50v2.3M117.81 168.50v-2.3M117.81 0.50v2.3M120.57 168.50v-2.3M120.57 0.50v2.3M122.90 168.50v-2.3M122.90 0.50v2.3M124.92 168.50v-2.3M124.92 0.50v2.3M126.71 168.50v-2.3M126.71 0.50v2.3M128.30 168.50v-4.4M128.30 0.50v4.4M138.79 168.50v-2.3M138.79 0.50v2.3M144.93 168.50v-2.3M144.93 0.50v2.3M149.28 168.50v-2.3M149.28 0.50v2.3M152.66 168.50v-2.3M152.66 0.50v2.3M155.42 168.50v-2.3M155.42 0.50v2.3M157.75 168.50v-2.3M157.75 0.50v2.3M159.77 168.50v-2.3M159.77 0.50v2.3M161.56 168.50v-2.3M161.56 0.50v2.3M163.15 168.50v-4.4M163.15 0.50v4.4M173.64 168.50v-2.3M173.64 0.50v2.3M179.78 168.50v-2.3M179.78 0.50v2.3M184.13 168.50v-2.3M184.13 0.50v2.3M23.50 168.05h2.8M186.50 168.05h-2.8M23.50 160.26h2.8M186.50 160.26h-2.8M23.50 154.73h2.8M186.50 154.73h-2.8M23.50 150.44h2.8M186.50 150.44h-2.8M23.50 146.93h2.8M186.50 146.93h-2.8M23.50 143.97h2.8M186.50 143.97h-2.8M23.50 141.40h2.8M186.50 141.40h-2.8M23.50 139.14h2.8M186.50 139.14h-2.8M23.50 137.11h5.4M186.50 137.11h-5.4M23.50 123.78h2.8M186.50 123.78h-2.8M23.50 115.99h2.8M186.50 115.99h-2.8M23.50 110.46h2.8M186.50 110.46h-2.8M23.50 106.17h2.8M186.50 106.17h-2.8M23.50 102.66h2.8M186.50 102.66h-2.8M23.50 99.70h2.8M186.50 99.70h-2.8M23.50 97.13h2.8M186.50 97.13h-2.8M23.50 94.87h2.8M186.50 94.87h-2.8M23.50 92.84h5.4M186.50 92.84h-5.4M23.50 79.51h2.8M186.50 79.51h-2.8M23.50 71.72h2.8M186.50 71.72h-2.8M23.50 66.19h2.8M186.50 66.19h-2.8M23.50 61.90h2.8M186.50 61.90h-2.8M23.50 58.39h2.8M186.50 58.39h-2.8M23.50 55.43h2.8M186.50 55.43h-2.8M23.50 52.86h2.8M186.50 52.86h-2.8M23.50 50.60h2.8M186.50 50.60h-2.8M23.50 48.57h5.4M186.50 48.57h-5.4M23.50 35.24h2.8M186.50 35.24h-2.8M23.50 27.45h2.8M186.50 27.45h-2.8M23.50 21.92h2.8M186.50 21.92h-2.8M23.50 17.63h2.8M186.50 17.63h-2.8M23.50 14.12h2.8M186.50 14.12h-2.8M23.50 11.16h2.8M186.50 11.16h-2.8M23.50 8.59h2.8M186.50 8.59h-2.8M23.50 6.33h2.8M186.50 6.33h-2.8M23.50 4.30h5.4M186.50 4.30h-5.4M197.24 168.50v-2.3M197.24 0.50v2.3M203.38 168.50v-2.3M203.38 0.50v2.3M207.73 168.50v-2.3M207.73 0.50v2.3M211.11 168.50v-2.3M211.11 0.50v2.3M213.87 168.50v-2.3M213.87 0.50v2.3M216.20 168.50v-2.3M216.20 0.50v2.3M218.22 168.50v-2.3M218.22 0.50v2.3M220.01 168.50v-2.3M220.01 0.50v2.3M221.60 168.50v-4.4M221.60 0.50v4.4M232.09 168.50v-2.3M232.09 0.50v2.3M238.23 168.50v-2.3M238.23 0.50v2.3M242.58 168.50v-2.3M242.58 0.50v2.3M245.96 168.50v-2.3M245.96 0.50v2.3M248.72 168.50v-2.3M248.72 0.50v2.3M251.05 168.50v-2.3M251.05 0.50v2.3M253.07 168.50v-2.3M253.07 0.50v2.3M254.86 168.50v-2.3M254.86 0.50v2.3M256.45 168.50v-4.4M256.45 0.50v4.4M266.94 168.50v-2.3M266.94 0.50v2.3M273.08 168.50v-2.3M273.08 0.50v2.3M277.43 168.50v-2.3M277.43 0.50v2.3M280.81 168.50v-2.3M280.81 0.50v2.3M283.57 168.50v-2.3M283.57 0.50v2.3M285.90 168.50v-2.3M285.90 0.50v2.3M287.92 168.50v-2.3M287.92 0.50v2.3M289.71 168.50v-2.3M289.71 0.50v2.3M291.30 168.50v-4.4M291.30 0.50v4.4M301.79 168.50v-2.3M301.79 0.50v2.3M307.93 168.50v-2.3M307.93 0.50v2.3M312.28 168.50v-2.3M312.28 0.50v2.3M315.66 168.50v-2.3M315.66 0.50v2.3M318.42 168.50v-2.3M318.42 0.50v2.3M320.75 168.50v-2.3M320.75 0.50v2.3M322.77 168.50v-2.3M322.77 0.50v2.3M324.56 168.50v-2.3M324.56 0.50v2.3M326.15 168.50v-4.4M326.15 0.50v4.4M336.64 168.50v-2.3M336.64 0.50v2.3M342.78 168.50v-2.3M342.78 0.50v2.3M347.13 168.50v-2.3M347.13 0.50v2.3M186.50 168.05h2.8M349.50 168.05h-2.8M186.50 160.26h2.8M349.50 160.26h-2.8M186.50 154.73h2.8M349.50 154.73h-2.8M186.50 150.44h2.8M349.50 150.44h-2.8M186.50 146.93h2.8M349.50 146.93h-2.8M186.50 143.97h2.8M349.50 143.97h-2.8M186.50 141.40h2.8M349.50 141.40h-2.8M186.50 139.14h2.8M349.50 139.14h-2.8M186.50 137.11h5.4M349.50 137.11h-5.4M186.50 123.78h2.8M349.50 123.78h-2.8M186.50 115.99h2.8M349.50 115.99h-2.8M186.50 110.46h2.8M349.50 110.46h-2.8M186.50 106.17h2.8M349.50 106.17h-2.8M186.50 102.66h2.8M349.50 102.66h-2.8M186.50 99.70h2.8M349.50 99.70h-2.8M186.50 97.13h2.8M349.50 97.13h-2.8M186.50 94.87h2.8M349.50 94.87h-2.8M186.50 92.84h5.4M349.50 92.84h-5.4M186.50 79.51h2.8M349.50 79.51h-2.8M186.50 71.72h2.8M349.50 71.72h-2.8M186.50 66.19h2.8M349.50 66.19h-2.8M186.50 61.90h2.8M349.50 61.90h-2.8M186.50 58.39h2.8M349.50 58.39h-2.8M186.50 55.43h2.8M349.50 55.43h-2.8M186.50 52.86h2.8M349.50 52.86h-2.8M186.50 50.60h2.8M349.50 50.60h-2.8M186.50 48.57h5.4M349.50 48.57h-5.4M186.50 35.24h2.8M349.50 35.24h-2.8M186.50 27.45h2.8M349.50 27.45h-2.8M186.50 21.92h2.8M349.50 21.92h-2.8M186.50 17.63h2.8M349.50 17.63h-2.8M186.50 14.12h2.8M349.50 14.12h-2.8M186.50 11.16h2.8M349.50 11.16h-2.8M186.50 8.59h2.8M349.50 8.59h-2.8M186.50 6.33h2.8M349.50 6.33h-2.8M186.50 4.30h5.4M349.50 4.30h-5.4M34.24 336.00v-2.3M34.24 168.50v2.3M40.38 336.00v-2.3M40.38 168.50v2.3M44.73 336.00v-2.3M44.73 168.50v2.3M48.11 336.00v-2.3M48.11 168.50v2.3M50.87 336.00v-2.3M50.87 168.50v2.3M53.20 336.00v-2.3M53.20 168.50v2.3M55.22 336.00v-2.3M55.22 168.50v2.3M57.01 336.00v-2.3M57.01 168.50v2.3M58.60 336.00v-4.4M58.60 168.50v4.4M69.09 336.00v-2.3M69.09 168.50v2.3M75.23 336.00v-2.3M75.23 168.50v2.3M79.58 336.00v-2.3M79.58 168.50v2.3M82.96 336.00v-2.3M82.96 168.50v2.3M85.72 336.00v-2.3M85.72 168.50v2.3M88.05 336.00v-2.3M88.05 168.50v2.3M90.07 336.00v-2.3M90.07 168.50v2.3M91.86 336.00v-2.3M91.86 168.50v2.3M93.45 336.00v-4.4M93.45 168.50v4.4M103.94 336.00v-2.3M103.94 168.50v2.3M110.08 336.00v-2.3M110.08 168.50v2.3M114.43 336.00v-2.3M114.43 168.50v2.3M117.81 336.00v-2.3M117.81 168.50v2.3M120.57 336.00v-2.3M120.57 168.50v2.3M122.90 336.00v-2.3M122.90 168.50v2.3M124.92 336.00v-2.3M124.92 168.50v2.3M126.71 336.00v-2.3M126.71 168.50v2.3M128.30 336.00v-4.4M128.30 168.50v4.4M138.79 336.00v-2.3M138.79 168.50v2.3M144.93 336.00v-2.3M144.93 168.50v2.3M149.28 336.00v-2.3M149.28 168.50v2.3M152.66 336.00v-2.3M152.66 168.50v2.3M155.42 336.00v-2.3M155.42 168.50v2.3M157.75 336.00v-2.3M157.75 168.50v2.3M159.77 336.00v-2.3M159.77 168.50v2.3M161.56 336.00v-2.3M161.56 168.50v2.3M163.15 336.00v-4.4M163.15 168.50v4.4M173.64 336.00v-2.3M173.64 168.50v2.3M179.78 336.00v-2.3M179.78 168.50v2.3M184.13 336.00v-2.3M184.13 168.50v2.3M23.50 328.26h2.8M186.50 328.26h-2.8M23.50 322.73h2.8M186.50 322.73h-2.8M23.50 318.44h2.8M186.50 318.44h-2.8M23.50 314.93h2.8M186.50 314.93h-2.8M23.50 311.97h2.8M186.50 311.97h-2.8M23.50 309.40h2.8M186.50 309.40h-2.8M23.50 307.14h2.8M186.50 307.14h-2.8M23.50 305.11h5.4M186.50 305.11h-5.4M23.50 291.78h2.8M186.50 291.78h-2.8M23.50 283.99h2.8M186.50 283.99h-2.8M23.50 278.46h2.8M186.50 278.46h-2.8M23.50 274.17h2.8M186.50 274.17h-2.8M23.50 270.66h2.8M186.50 270.66h-2.8M23.50 267.70h2.8M186.50 267.70h-2.8M23.50 265.13h2.8M186.50 265.13h-2.8M23.50 262.87h2.8M186.50 262.87h-2.8M23.50 260.84h5.4M186.50 260.84h-5.4M23.50 247.51h2.8M186.50 247.51h-2.8M23.50 239.72h2.8M186.50 239.72h-2.8M23.50 234.19h2.8M186.50 234.19h-2.8M23.50 229.90h2.8M186.50 229.90h-2.8M23.50 226.39h2.8M186.50 226.39h-2.8M23.50 223.43h2.8M186.50 223.43h-2.8M23.50 220.86h2.8M186.50 220.86h-2.8M23.50 218.60h2.8M186.50 218.60h-2.8M23.50 216.57h5.4M186.50 216.57h-5.4M23.50 203.24h2.8M186.50 203.24h-2.8M23.50 195.45h2.8M186.50 195.45h-2.8M23.50 189.92h2.8M186.50 189.92h-2.8M23.50 185.63h2.8M186.50 185.63h-2.8M23.50 182.12h2.8M186.50 182.12h-2.8M23.50 179.16h2.8M186.50 179.16h-2.8M23.50 176.59h2.8M186.50 176.59h-2.8M23.50 174.33h2.8M186.50 174.33h-2.8M23.50 172.30h5.4M186.50 172.30h-5.4M197.24 336.00v-2.3M197.24 168.50v2.3M203.38 336.00v-2.3M203.38 168.50v2.3M207.73 336.00v-2.3M207.73 168.50v2.3M211.11 336.00v-2.3M211.11 168.50v2.3M213.87 336.00v-2.3M213.87 168.50v2.3M216.20 336.00v-2.3M216.20 168.50v2.3M218.22 336.00v-2.3M218.22 168.50v2.3M220.01 336.00v-2.3M220.01 168.50v2.3M221.60 336.00v-4.4M221.60 168.50v4.4M232.09 336.00v-2.3M232.09 168.50v2.3M238.23 336.00v-2.3M238.23 168.50v2.3M242.58 336.00v-2.3M242.58 168.50v2.3M245.96 336.00v-2.3M245.96 168.50v2.3M248.72 336.00v-2.3M248.72 168.50v2.3M251.05 336.00v-2.3M251.05 168.50v2.3M253.07 336.00v-2.3M253.07 168.50v2.3M254.86 336.00v-2.3M254.86 168.50v2.3M256.45 336.00v-4.4M256.45 168.50v4.4M266.94 336.00v-2.3M266.94 168.50v2.3M273.08 336.00v-2.3M273.08 168.50v2.3M277.43 336.00v-2.3M277.43 168.50v2.3M280.81 336.00v-2.3M280.81 168.50v2.3M283.57 336.00v-2.3M283.57 168.50v2.3M285.90 336.00v-2.3M285.90 168.50v2.3M287.92 336.00v-2.3M287.92 168.50v2.3M289.71 336.00v-2.3M289.71 168.50v2.3M291.30 336.00v-4.4M291.30 168.50v4.4M301.79 336.00v-2.3M301.79 168.50v2.3M307.93 336.00v-2.3M307.93 168.50v2.3M312.28 336.00v-2.3M312.28 168.50v2.3M315.66 336.00v-2.3M315.66 168.50v2.3M318.42 336.00v-2.3M318.42 168.50v2.3M320.75 336.00v-2.3M320.75 168.50v2.3M322.77 336.00v-2.3M322.77 168.50v2.3M324.56 336.00v-2.3M324.56 168.50v2.3M326.15 336.00v-4.4M326.15 168.50v4.4M336.64 336.00v-2.3M336.64 168.50v2.3M342.78 336.00v-2.3M342.78 168.50v2.3M347.13 336.00v-2.3M347.13 168.50v2.3M186.50 328.26h2.8M349.50 328.26h-2.8M186.50 322.73h2.8M349.50 322.73h-2.8M186.50 318.44h2.8M349.50 318.44h-2.8M186.50 314.93h2.8M349.50 314.93h-2.8M186.50 311.97h2.8M349.50 311.97h-2.8M186.50 309.40h2.8M349.50 309.40h-2.8M186.50 307.14h2.8M349.50 307.14h-2.8M186.50 305.11h5.4M349.50 305.11h-5.4M186.50 291.78h2.8M349.50 291.78h-2.8M186.50 283.99h2.8M349.50 283.99h-2.8M186.50 278.46h2.8M349.50 278.46h-2.8M186.50 274.17h2.8M349.50 274.17h-2.8M186.50 270.66h2.8M349.50 270.66h-2.8M186.50 267.70h2.8M349.50 267.70h-2.8M186.50 265.13h2.8M349.50 265.13h-2.8M186.50 262.87h2.8M349.50 262.87h-2.8M186.50 260.84h5.4M349.50 260.84h-5.4M186.50 247.51h2.8M349.50 247.51h-2.8M186.50 239.72h2.8M349.50 239.72h-2.8M186.50 234.19h2.8M349.50 234.19h-2.8M186.50 229.90h2.8M349.50 229.90h-2.8M186.50 226.39h2.8M349.50 226.39h-2.8M186.50 223.43h2.8M349.50 223.43h-2.8M186.50 220.86h2.8M349.50 220.86h-2.8M186.50 218.60h2.8M349.50 218.60h-2.8M186.50 216.57h5.4M349.50 216.57h-5.4M186.50 203.24h2.8M349.50 203.24h-2.8M186.50 195.45h2.8M349.50 195.45h-2.8M186.50 189.92h2.8M349.50 189.92h-2.8M186.50 185.63h2.8M349.50 185.63h-2.8M186.50 182.12h2.8M349.50 182.12h-2.8M186.50 179.16h2.8M349.50 179.16h-2.8M186.50 176.59h2.8M349.50 176.59h-2.8M186.50 174.33h2.8M349.50 174.33h-2.8M186.50 172.30h5.4M349.50 172.30h-5.4M34.24 501.50v-2.3M34.24 336.00v2.3M40.38 501.50v-2.3M40.38 336.00v2.3M44.73 501.50v-2.3M44.73 336.00v2.3M48.11 501.50v-2.3M48.11 336.00v2.3M50.87 501.50v-2.3M50.87 336.00v2.3M53.20 501.50v-2.3M53.20 336.00v2.3M55.22 501.50v-2.3M55.22 336.00v2.3M57.01 501.50v-2.3M57.01 336.00v2.3M58.60 501.50v-4.4M58.60 336.00v4.4M69.09 501.50v-2.3M69.09 336.00v2.3M75.23 501.50v-2.3M75.23 336.00v2.3M79.58 501.50v-2.3M79.58 336.00v2.3M82.96 501.50v-2.3M82.96 336.00v2.3M85.72 501.50v-2.3M85.72 336.00v2.3M88.05 501.50v-2.3M88.05 336.00v2.3M90.07 501.50v-2.3M90.07 336.00v2.3M91.86 501.50v-2.3M91.86 336.00v2.3M93.45 501.50v-4.4M93.45 336.00v4.4M103.94 501.50v-2.3M103.94 336.00v2.3M110.08 501.50v-2.3M110.08 336.00v2.3M114.43 501.50v-2.3M114.43 336.00v2.3M117.81 501.50v-2.3M117.81 336.00v2.3M120.57 501.50v-2.3M120.57 336.00v2.3M122.90 501.50v-2.3M122.90 336.00v2.3M124.92 501.50v-2.3M124.92 336.00v2.3M126.71 501.50v-2.3M126.71 336.00v2.3M128.30 501.50v-4.4M128.30 336.00v4.4M138.79 501.50v-2.3M138.79 336.00v2.3M144.93 501.50v-2.3M144.93 336.00v2.3M149.28 501.50v-2.3M149.28 336.00v2.3M152.66 501.50v-2.3M152.66 336.00v2.3M155.42 501.50v-2.3M155.42 336.00v2.3M157.75 501.50v-2.3M157.75 336.00v2.3M159.77 501.50v-2.3M159.77 336.00v2.3M161.56 501.50v-2.3M161.56 336.00v2.3M163.15 501.50v-4.4M163.15 336.00v4.4M173.64 501.50v-2.3M173.64 336.00v2.3M179.78 501.50v-2.3M179.78 336.00v2.3M184.13 501.50v-2.3M184.13 336.00v2.3M23.50 494.11h2.8M186.50 494.11h-2.8M23.50 488.63h2.8M186.50 488.63h-2.8M23.50 484.38h2.8M186.50 484.38h-2.8M23.50 480.91h2.8M186.50 480.91h-2.8M23.50 477.98h2.8M186.50 477.98h-2.8M23.50 475.44h2.8M186.50 475.44h-2.8M23.50 473.20h2.8M186.50 473.20h-2.8M23.50 471.19h5.4M186.50 471.19h-5.4M23.50 458.00h2.8M186.50 458.00h-2.8M23.50 450.28h2.8M186.50 450.28h-2.8M23.50 444.80h2.8M186.50 444.80h-2.8M23.50 440.55h2.8M186.50 440.55h-2.8M23.50 437.08h2.8M186.50 437.08h-2.8M23.50 434.15h2.8M186.50 434.15h-2.8M23.50 431.61h2.8M186.50 431.61h-2.8M23.50 429.37h2.8M186.50 429.37h-2.8M23.50 427.36h5.4M186.50 427.36h-5.4M23.50 414.17h2.8M186.50 414.17h-2.8M23.50 406.45h2.8M186.50 406.45h-2.8M23.50 400.97h2.8M186.50 400.97h-2.8M23.50 396.72h2.8M186.50 396.72h-2.8M23.50 393.25h2.8M186.50 393.25h-2.8M23.50 390.32h2.8M186.50 390.32h-2.8M23.50 387.78h2.8M186.50 387.78h-2.8M23.50 385.54h2.8M186.50 385.54h-2.8M23.50 383.53h5.4M186.50 383.53h-5.4M23.50 370.34h2.8M186.50 370.34h-2.8M23.50 362.62h2.8M186.50 362.62h-2.8M23.50 357.14h2.8M186.50 357.14h-2.8M23.50 352.89h2.8M186.50 352.89h-2.8M23.50 349.42h2.8M186.50 349.42h-2.8M23.50 346.49h2.8M186.50 346.49h-2.8M23.50 343.95h2.8M186.50 343.95h-2.8M23.50 341.71h2.8M186.50 341.71h-2.8M23.50 339.70h5.4M186.50 339.70h-5.4M197.24 501.50v-2.3M197.24 336.00v2.3M203.38 501.50v-2.3M203.38 336.00v2.3M207.73 501.50v-2.3M207.73 336.00v2.3M211.11 501.50v-2.3M211.11 336.00v2.3M213.87 501.50v-2.3M213.87 336.00v2.3M216.20 501.50v-2.3M216.20 336.00v2.3M218.22 501.50v-2.3M218.22 336.00v2.3M220.01 501.50v-2.3M220.01 336.00v2.3M221.60 501.50v-4.4M221.60 336.00v4.4M232.09 501.50v-2.3M232.09 336.00v2.3M238.23 501.50v-2.3M238.23 336.00v2.3M242.58 501.50v-2.3M242.58 336.00v2.3M245.96 501.50v-2.3M245.96 336.00v2.3M248.72 501.50v-2.3M248.72 336.00v2.3M251.05 501.50v-2.3M251.05 336.00v2.3M253.07 501.50v-2.3M253.07 336.00v2.3M254.86 501.50v-2.3M254.86 336.00v2.3M256.45 501.50v-4.4M256.45 336.00v4.4M266.94 501.50v-2.3M266.94 336.00v2.3M273.08 501.50v-2.3M273.08 336.00v2.3M277.43 501.50v-2.3M277.43 336.00v2.3M280.81 501.50v-2.3M280.81 336.00v2.3M283.57 501.50v-2.3M283.57 336.00v2.3M285.90 501.50v-2.3M285.90 336.00v2.3M287.92 501.50v-2.3M287.92 336.00v2.3M289.71 501.50v-2.3M289.71 336.00v2.3M291.30 501.50v-4.4M291.30 336.00v4.4M301.79 501.50v-2.3M301.79 336.00v2.3M307.93 501.50v-2.3M307.93 336.00v2.3M312.28 501.50v-2.3M312.28 336.00v2.3M315.66 501.50v-2.3M315.66 336.00v2.3M318.42 501.50v-2.3M318.42 336.00v2.3M320.75 501.50v-2.3M320.75 336.00v2.3M322.77 501.50v-2.3M322.77 336.00v2.3M324.56 501.50v-2.3M324.56 336.00v2.3M326.15 501.50v-4.4M326.15 336.00v4.4M336.64 501.50v-2.3M336.64 336.00v2.3M342.78 501.50v-2.3M342.78 336.00v2.3M347.13 501.50v-2.3M347.13 336.00v2.3M186.50 494.11h2.8M349.50 494.11h-2.8M186.50 488.63h2.8M349.50 488.63h-2.8M186.50 484.38h2.8M349.50 484.38h-2.8M186.50 480.91h2.8M349.50 480.91h-2.8M186.50 477.98h2.8M349.50 477.98h-2.8M186.50 475.44h2.8M349.50 475.44h-2.8M186.50 473.20h2.8M349.50 473.20h-2.8M186.50 471.19h5.4M349.50 471.19h-5.4M186.50 458.00h2.8M349.50 458.00h-2.8M186.50 450.28h2.8M349.50 450.28h-2.8M186.50 444.80h2.8M349.50 444.80h-2.8M186.50 440.55h2.8M349.50 440.55h-2.8M186.50 437.08h2.8M349.50 437.08h-2.8M186.50 434.15h2.8M349.50 434.15h-2.8M186.50 431.61h2.8M349.50 431.61h-2.8M186.50 429.37h2.8M349.50 429.37h-2.8M186.50 427.36h5.4M349.50 427.36h-5.4M186.50 414.17h2.8M349.50 414.17h-2.8M186.50 406.45h2.8M349.50 406.45h-2.8M186.50 400.97h2.8M349.50 400.97h-2.8M186.50 396.72h2.8M349.50 396.72h-2.8M186.50 393.25h2.8M349.50 393.25h-2.8M186.50 390.32h2.8M349.50 390.32h-2.8M186.50 387.78h2.8M349.50 387.78h-2.8M186.50 385.54h2.8M349.50 385.54h-2.8M186.50 383.53h5.4M349.50 383.53h-5.4M186.50 370.34h2.8M349.50 370.34h-2.8M186.50 362.62h2.8M349.50 362.62h-2.8M186.50 357.14h2.8M349.50 357.14h-2.8M186.50 352.89h2.8M349.50 352.89h-2.8M186.50 349.42h2.8M349.50 349.42h-2.8M186.50 346.49h2.8M349.50 346.49h-2.8M186.50 343.95h2.8M349.50 343.95h-2.8M186.50 341.71h2.8M349.50 341.71h-2.8M186.50 339.70h5.4M349.50 339.70h-5.4" stroke="#4a4a4a" stroke-width="0.9" fill="none"/>
<rect x="23.50" y="0.50" width="163.00" height="168.00" fill="none" stroke="#4a4a4a" stroke-width="1.1"/>
<rect x="186.50" y="0.50" width="163.00" height="168.00" fill="none" stroke="#4a4a4a" stroke-width="1.1"/>
<rect x="23.50" y="168.50" width="163.00" height="167.50" fill="none" stroke="#4a4a4a" stroke-width="1.1"/>
<rect x="186.50" y="168.50" width="163.00" height="167.50" fill="none" stroke="#4a4a4a" stroke-width="1.1"/>
<rect x="23.50" y="336.00" width="163.00" height="165.50" fill="none" stroke="#4a4a4a" stroke-width="1.1"/>
<rect x="186.50" y="336.00" width="163.00" height="165.50" fill="none" stroke="#4a4a4a" stroke-width="1.1"/>
<text x="18.5" y="7.35" font-size="7.0" fill="#1a1a1a" stroke="#1a1a1a" stroke-width="0.12" text-anchor="end" font-family="'Liberation Sans', Arial, sans-serif">10</text>
<text x="17.95" y="3.40" font-size="5.0" fill="#1a1a1a" stroke="#1a1a1a" stroke-width="0.08" font-family="'Liberation Sans', Arial, sans-serif">5</text>
<text x="18.5" y="52.22" font-size="7.0" fill="#1a1a1a" stroke="#1a1a1a" stroke-width="0.12" text-anchor="end" font-family="'Liberation Sans', Arial, sans-serif">10</text>
<text x="17.95" y="49.07" font-size="5.0" fill="#1a1a1a" stroke="#1a1a1a" stroke-width="0.08" font-family="'Liberation Sans', Arial, sans-serif">4</text>
<text x="18.5" y="96.49" font-size="7.0" fill="#1a1a1a" stroke="#1a1a1a" stroke-width="0.12" text-anchor="end" font-family="'Liberation Sans', Arial, sans-serif">10</text>
<text x="17.95" y="93.34" font-size="5.0" fill="#1a1a1a" stroke="#1a1a1a" stroke-width="0.08" font-family="'Liberation Sans', Arial, sans-serif">3</text>
<text x="18.5" y="140.76" font-size="7.0" fill="#1a1a1a" stroke="#1a1a1a" stroke-width="0.12" text-anchor="end" font-family="'Liberation Sans', Arial, sans-serif">10</text>
<text x="17.95" y="137.61" font-size="5.0" fill="#1a1a1a" stroke="#1a1a1a" stroke-width="0.08" font-family="'Liberation Sans', Arial, sans-serif">2</text>
<text x="18.5" y="175.35" font-size="7.0" fill="#1a1a1a" stroke="#1a1a1a" stroke-width="0.12" text-anchor="end" font-family="'Liberation Sans', Arial, sans-serif">10</text>
<text x="17.95" y="171.40" font-size="5.0" fill="#1a1a1a" stroke="#1a1a1a" stroke-width="0.08" font-family="'Liberation Sans', Arial, sans-serif">5</text>
<text x="18.5" y="220.22" font-size="7.0" fill="#1a1a1a" stroke="#1a1a1a" stroke-width="0.12" text-anchor="end" font-family="'Liberation Sans', Arial, sans-serif">10</text>
<text x="17.95" y="217.07" font-size="5.0" fill="#1a1a1a" stroke="#1a1a1a" stroke-width="0.08" font-family="'Liberation Sans', Arial, sans-serif">4</text>
<text x="18.5" y="264.49" font-size="7.0" fill="#1a1a1a" stroke="#1a1a1a" stroke-width="0.12" text-anchor="end" font-family="'Liberation Sans', Arial, sans-serif">10</text>
<text x="17.95" y="261.34" font-size="5.0" fill="#1a1a1a" stroke="#1a1a1a" stroke-width="0.08" font-family="'Liberation Sans', Arial, sans-serif">3</text>
<text x="18.5" y="308.76" font-size="7.0" fill="#1a1a1a" stroke="#1a1a1a" stroke-width="0.12" text-anchor="end" font-family="'Liberation Sans', Arial, sans-serif">10</text>
<text x="17.95" y="305.61" font-size="5.0" fill="#1a1a1a" stroke="#1a1a1a" stroke-width="0.08" font-family="'Liberation Sans', Arial, sans-serif">2</text>
<text x="17.5" y="343.30" font-size="7.8" fill="#1a1a1a" stroke="#1a1a1a" stroke-width="0.12" text-anchor="end" font-family="'Liberation Sans', Arial, sans-serif">10</text>
<text x="17.2" y="339.00" font-size="5.2" fill="#1a1a1a" stroke="#1a1a1a" stroke-width="0.08" font-family="'Liberation Sans', Arial, sans-serif">5</text>
<text x="17.5" y="387.63" font-size="7.8" fill="#1a1a1a" stroke="#1a1a1a" stroke-width="0.12" text-anchor="end" font-family="'Liberation Sans', Arial, sans-serif">10</text>
<text x="17.2" y="383.33" font-size="5.2" fill="#1a1a1a" stroke="#1a1a1a" stroke-width="0.08" font-family="'Liberation Sans', Arial, sans-serif">4</text>
<text x="17.5" y="431.46" font-size="7.8" fill="#1a1a1a" stroke="#1a1a1a" stroke-width="0.12" text-anchor="end" font-family="'Liberation Sans', Arial, sans-serif">10</text>
<text x="17.2" y="427.16" font-size="5.2" fill="#1a1a1a" stroke="#1a1a1a" stroke-width="0.08" font-family="'Liberation Sans', Arial, sans-serif">3</text>
<text x="17.5" y="475.29" font-size="7.8" fill="#1a1a1a" stroke="#1a1a1a" stroke-width="0.12" text-anchor="end" font-family="'Liberation Sans', Arial, sans-serif">10</text>
<text x="17.2" y="470.99" font-size="5.2" fill="#1a1a1a" stroke="#1a1a1a" stroke-width="0.08" font-family="'Liberation Sans', Arial, sans-serif">2</text>
<text x="61.10" y="512.6" font-size="7.9" fill="#1a1a1a" stroke="#1a1a1a" stroke-width="0.12" text-anchor="end" font-family="'Liberation Sans', Arial, sans-serif">10</text>
<text x="60.30" y="508.4" font-size="5.6" fill="#1a1a1a" stroke="#1a1a1a" stroke-width="0.08" font-family="'Liberation Sans', Arial, sans-serif">2</text>
<text x="95.95" y="512.6" font-size="7.9" fill="#1a1a1a" stroke="#1a1a1a" stroke-width="0.12" text-anchor="end" font-family="'Liberation Sans', Arial, sans-serif">10</text>
<text x="95.15" y="508.4" font-size="5.6" fill="#1a1a1a" stroke="#1a1a1a" stroke-width="0.08" font-family="'Liberation Sans', Arial, sans-serif">3</text>
<text x="130.80" y="512.6" font-size="7.9" fill="#1a1a1a" stroke="#1a1a1a" stroke-width="0.12" text-anchor="end" font-family="'Liberation Sans', Arial, sans-serif">10</text>
<text x="130.00" y="508.4" font-size="5.6" fill="#1a1a1a" stroke="#1a1a1a" stroke-width="0.08" font-family="'Liberation Sans', Arial, sans-serif">4</text>
<text x="165.65" y="512.6" font-size="7.9" fill="#1a1a1a" stroke="#1a1a1a" stroke-width="0.12" text-anchor="end" font-family="'Liberation Sans', Arial, sans-serif">10</text>
<text x="164.85" y="508.4" font-size="5.6" fill="#1a1a1a" stroke="#1a1a1a" stroke-width="0.08" font-family="'Liberation Sans', Arial, sans-serif">5</text>
<text x="223.60" y="512.7" font-size="6.4" fill="#1a1a1a" stroke="#1a1a1a" stroke-width="0.12" text-anchor="end" font-family="'Liberation Sans', Arial, sans-serif">10</text>
<text x="223.40" y="509.7" font-size="4.8" fill="#1a1a1a" stroke="#1a1a1a" stroke-width="0.08" font-family="'Liberation Sans', Arial, sans-serif">2</text>
<text x="258.45" y="512.7" font-size="6.4" fill="#1a1a1a" stroke="#1a1a1a" stroke-width="0.12" text-anchor="end" font-family="'Liberation Sans', Arial, sans-serif">10</text>
<text x="258.25" y="509.7" font-size="4.8" fill="#1a1a1a" stroke="#1a1a1a" stroke-width="0.08" font-family="'Liberation Sans', Arial, sans-serif">3</text>
<text x="293.30" y="512.7" font-size="6.4" fill="#1a1a1a" stroke="#1a1a1a" stroke-width="0.12" text-anchor="end" font-family="'Liberation Sans', Arial, sans-serif">10</text>
<text x="293.10" y="509.7" font-size="4.8" fill="#1a1a1a" stroke="#1a1a1a" stroke-width="0.08" font-family="'Liberation Sans', Arial, sans-serif">4</text>
<text x="328.15" y="512.7" font-size="6.4" fill="#1a1a1a" stroke="#1a1a1a" stroke-width="0.12" text-anchor="end" font-family="'Liberation Sans', Arial, sans-serif">10</text>
<text x="327.95" y="509.7" font-size="4.8" fill="#1a1a1a" stroke="#1a1a1a" stroke-width="0.08" font-family="'Liberation Sans', Arial, sans-serif">5</text>
<text x="0" y="0" transform="translate(4.9 83.3) rotate(-90)" font-size="6.2" font-weight="bold" fill="#111" stroke="#111" stroke-width="0.15" text-anchor="middle" font-family="'Liberation Sans', Arial, sans-serif">Variability index</text>
<text x="0" y="0" transform="translate(4.9 251.0) rotate(-90)" font-size="6.2" font-weight="bold" fill="#111" stroke="#111" stroke-width="0.15" text-anchor="middle" font-family="'Liberation Sans', Arial, sans-serif">Variability index</text>
<text x="0" y="0" transform="translate(4.9 417.8) rotate(-90)" font-size="7.2" font-weight="bold" fill="#111" stroke="#111" stroke-width="0.15" text-anchor="middle" font-family="'Liberation Sans', Arial, sans-serif">Variability index</text>
<text x="104.2" y="523.9" font-size="6.6" font-weight="bold" fill="#111" stroke="#111" stroke-width="0.2" text-anchor="middle" font-family="'Liberation Sans', Arial, sans-serif">log(TS)</text>
<text x="267.2" y="523.9" font-size="6.2" font-weight="bold" fill="#111" stroke="#111" stroke-width="0.2" text-anchor="middle" font-family="'Liberation Sans', Arial, sans-serif">log(TS)</text>
<text x="39.80" y="36.60" font-size="9.60" fill="#111" stroke="#111" stroke-width="0.35" font-family="'Liberation Serif', 'Times New Roman', serif">Γ</text>
<text x="44.30" y="36.60" font-size="8.90" font-weight="bold" fill="#111" stroke="#111" stroke-width="0.25" textLength="39.10" lengthAdjust="spacingAndGlyphs" font-family="'Liberation Sans', Arial, sans-serif">=1.6-1.8</text>
<text x="202.80" y="36.60" font-size="9.60" fill="#111" stroke="#111" stroke-width="0.35" font-family="'Liberation Serif', 'Times New Roman', serif">Γ</text>
<text x="207.30" y="36.60" font-size="8.90" font-weight="bold" fill="#111" stroke="#111" stroke-width="0.25" textLength="39.10" lengthAdjust="spacingAndGlyphs" font-family="'Liberation Sans', Arial, sans-serif">=1.8-2.0</text>
<text x="39.80" y="204.60" font-size="9.60" fill="#111" stroke="#111" stroke-width="0.35" font-family="'Liberation Serif', 'Times New Roman', serif">Γ</text>
<text x="44.30" y="204.60" font-size="8.90" font-weight="bold" fill="#111" stroke="#111" stroke-width="0.25" textLength="39.10" lengthAdjust="spacingAndGlyphs" font-family="'Liberation Sans', Arial, sans-serif">=2.0-2.2</text>
<text x="202.80" y="204.60" font-size="9.60" fill="#111" stroke="#111" stroke-width="0.35" font-family="'Liberation Serif', 'Times New Roman', serif">Γ</text>
<text x="207.30" y="204.60" font-size="8.90" font-weight="bold" fill="#111" stroke="#111" stroke-width="0.25" textLength="39.10" lengthAdjust="spacingAndGlyphs" font-family="'Liberation Sans', Arial, sans-serif">=2.2-2.4</text>
<text x="39.80" y="372.00" font-size="11.71" fill="#111" stroke="#111" stroke-width="0.35" font-family="'Liberation Serif', 'Times New Roman', serif">Γ</text>
<text x="45.29" y="372.00" font-size="10.86" font-weight="bold" fill="#111" stroke="#111" stroke-width="0.25" textLength="46.20" lengthAdjust="spacingAndGlyphs" font-family="'Liberation Sans', Arial, sans-serif">=2.4-2.6</text>
<text x="202.80" y="372.00" font-size="9.60" fill="#111" stroke="#111" stroke-width="0.35" font-family="'Liberation Serif', 'Times New Roman', serif">Γ</text>
<text x="207.30" y="372.00" font-size="8.90" font-weight="bold" fill="#111" stroke="#111" stroke-width="0.25" textLength="39.10" lengthAdjust="spacingAndGlyphs" font-family="'Liberation Sans', Arial, sans-serif">=2.6-2.8</text>
<circle cx="40" cy="48.6" r="1.95" fill="#f00"/>
<circle cx="40" cy="61.7" r="1.95" fill="#00f"/>
<text x="50.6" y="51.5" font-size="8.3" font-weight="bold" fill="#111" stroke="#111" stroke-width="0.25" textLength="31.0" lengthAdjust="spacingAndGlyphs" font-family="'Liberation Sans', Arial, sans-serif">FSRQs</text>
<text x="50.6" y="65.0" font-size="8.3" font-weight="bold" fill="#111" stroke="#111" stroke-width="0.25" textLength="35.0" lengthAdjust="spacingAndGlyphs" font-family="'Liberation Sans', Arial, sans-serif">BL Lacs</text>
</svg></body></html>
